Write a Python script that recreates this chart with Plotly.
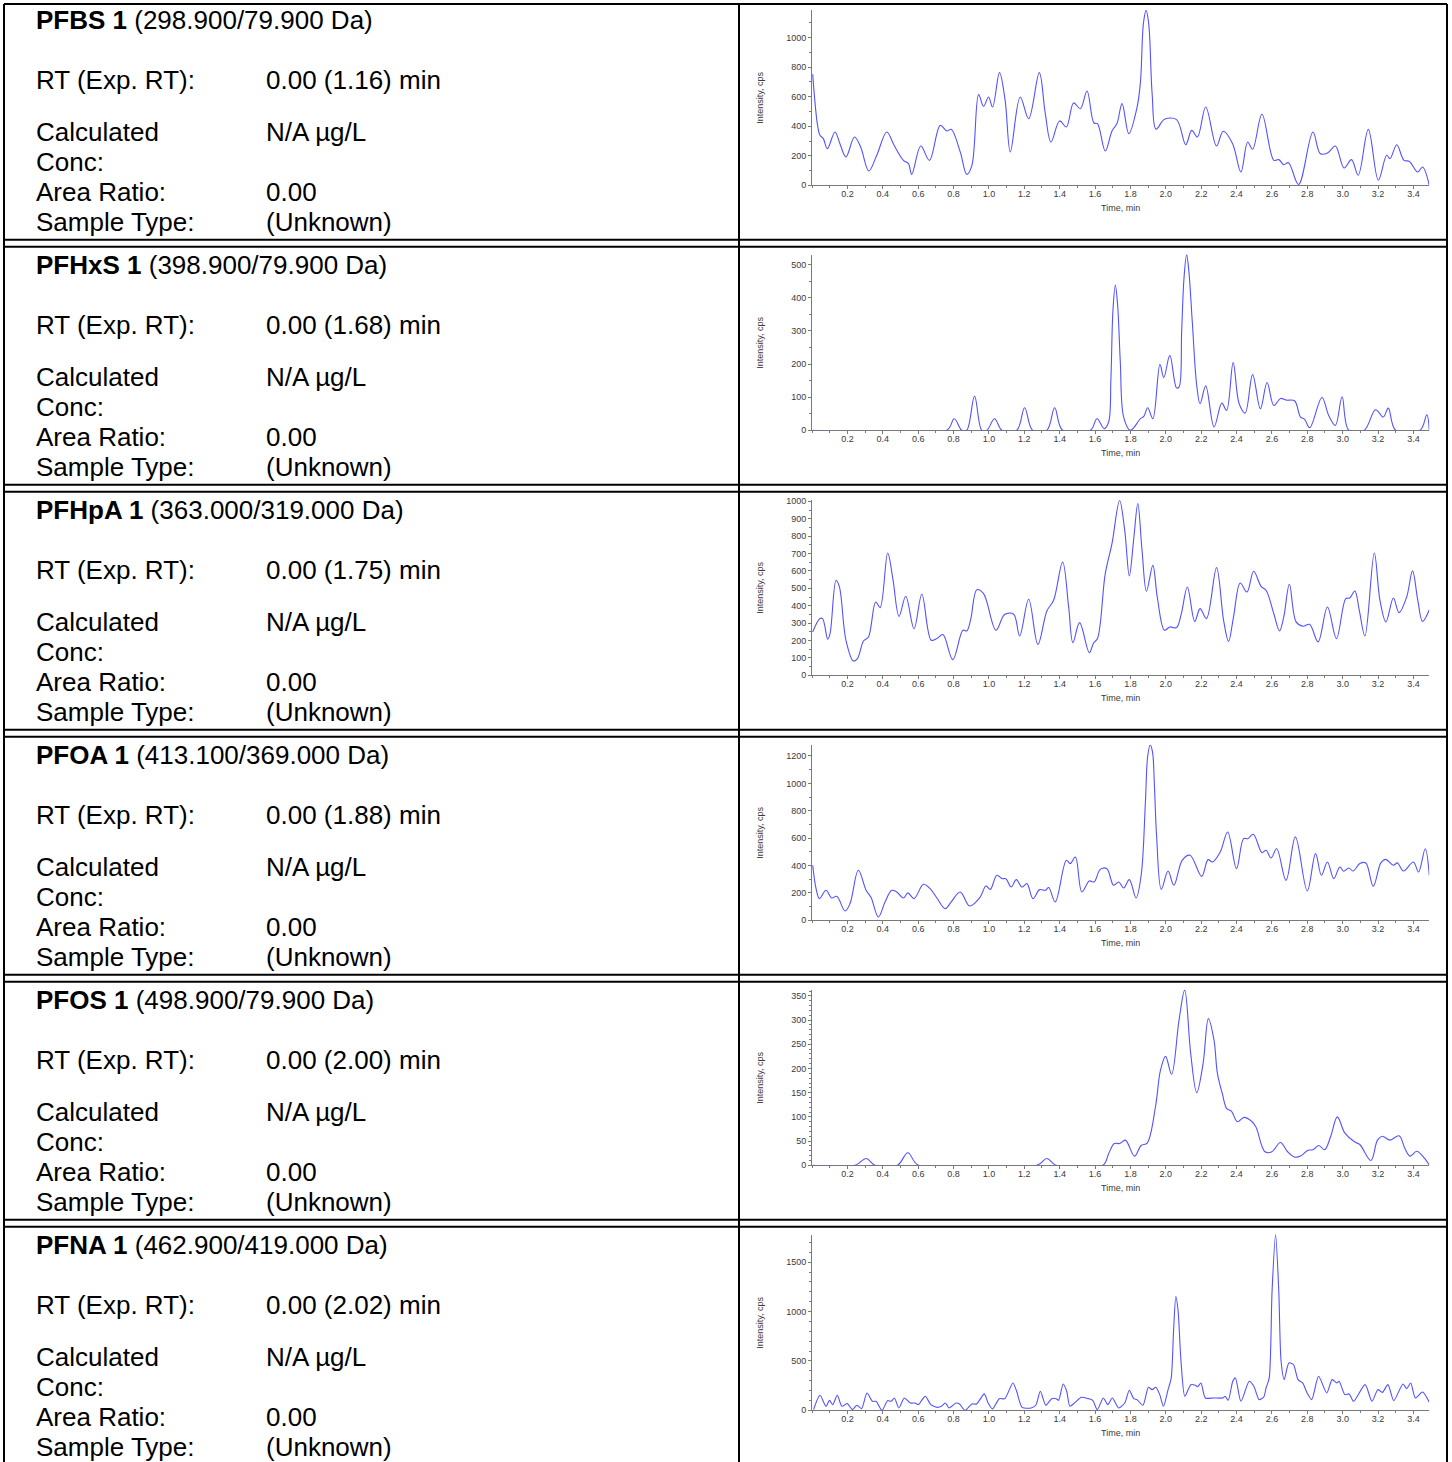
import plotly.graph_objects as go

W, H = 1452, 1470
ROW_PITCH = 245

# ---- report content -------------------------------------------------------
compounds = ["PFBS 1", "PFHxS 1", "PFHpA 1", "PFOA 1", "PFOS 1", "PFNA 1"]
transitions = ["(298.900/79.900 Da)", "(398.900/79.900 Da)", "(363.000/319.000 Da)",
               "(413.100/369.000 Da)", "(498.900/79.900 Da)", "(462.900/419.000 Da)"]
rt_values = ["0.00 (1.16) min", "0.00 (1.68) min", "0.00 (1.75) min",
             "0.00 (1.88) min", "0.00 (2.00) min", "0.00 (2.02) min"]
conc_values = ["N/A µg/L"] * 6
area_ratios = ["0.00"] * 6
sample_types = ["(Unknown)"] * 6

# ---- chromatograms: (time [min], intensity [cps]) --------------------------
pfbs = [(0.004, 752), (0.011, 643), (0.030, 418), (0.045, 339), (0.064, 316), (0.087, 248),
        (0.130, 361), (0.158, 282), (0.192, 192), (0.240, 327), (0.275, 260), (0.321, 97),
        (0.366, 203), (0.423, 361), (0.464, 271), (0.517, 169), (0.545, 147), (0.564, 74),
        (0.615, 266), (0.664, 169), (0.725, 406), (0.762, 368), (0.787, 379), (0.838, 226),
        (0.875, 74), (0.904, 135), (0.942, 614), (0.970, 535), (0.998, 598), (1.021, 530),
        (1.060, 763), (1.092, 575), (1.121, 226), (1.177, 598), (1.225, 451), (1.285, 763),
        (1.319, 485), (1.351, 293), (1.400, 436), (1.438, 395), (1.479, 558), (1.517, 519),
        (1.555, 639), (1.594, 422), (1.614, 418), (1.658, 232), (1.696, 368), (1.724, 418),
        (1.753, 553), (1.791, 350), (1.838, 530), (1.857, 700), (1.874, 1100), (1.889, 1185),
        (1.904, 1090), (1.923, 620), (1.945, 380), (1.993, 447), (2.061, 445), (2.113, 275),
        (2.147, 372), (2.179, 327), (2.226, 530), (2.287, 266), (2.325, 366), (2.378, 282),
        (2.425, 90), (2.463, 293), (2.491, 244), (2.544, 481), (2.611, 169), (2.639, 174),
        (2.667, 140), (2.694, 153), (2.751, 5), (2.832, 361), (2.874, 214), (2.917, 221),
        (2.959, 266), (3.008, 117), (3.050, 174), (3.088, 68), (3.145, 379), (3.202, 34),
        (3.249, 203), (3.268, 181), (3.306, 275), (3.347, 169), (3.376, 163), (3.425, 90),
        (3.452, 124), (3.490, 0)]

pfhxs = [(0.004, 0), (0.762, 0), (0.804, 35), (0.847, 0), (0.875, 0), (0.919, 103),
         (0.960, 0), (0.989, 0), (1.032, 35), (1.074, 0), (1.158, 0), (1.202, 68),
         (1.247, 0), (1.328, 0), (1.372, 68), (1.417, 0), (1.574, 0), (1.611, 35),
         (1.652, 5), (1.677, 25), (1.690, 156), (1.701, 357), (1.715, 438), (1.728, 377),
         (1.743, 206), (1.762, 40), (1.800, 0), (1.857, 35), (1.876, 42), (1.898, 68),
         (1.927, 35), (1.967, 199), (1.989, 159), (2.023, 226), (2.061, 128), (2.075, 130),
         (2.090, 300), (2.103, 458), (2.118, 530), (2.131, 478), (2.150, 327), (2.175, 136),
         (2.194, 80), (2.226, 134), (2.273, 10), (2.317, 82), (2.344, 60), (2.381, 204),
         (2.415, 80), (2.449, 52), (2.491, 168), (2.535, 65), (2.573, 144), (2.611, 75),
         (2.649, 96), (2.682, 91), (2.728, 89), (2.762, 40), (2.785, 33), (2.814, 8),
         (2.883, 99), (2.921, 45), (2.959, 15), (2.997, 101), (3.035, 0), (3.122, 0),
         (3.186, 62), (3.230, 40), (3.258, 67), (3.300, 0), (3.438, 0), (3.476, 47),
         (3.490, 0)]

pfhpa = [(0.004, 249), (0.045, 326), (0.060, 326), (0.089, 207), (0.102, 239), (0.136, 546),
         (0.155, 508), (0.192, 201), (0.234, 82), (0.257, 96), (0.291, 197), (0.319, 220),
         (0.360, 421), (0.385, 389), (0.428, 703), (0.457, 556), (0.492, 339), (0.530, 454),
         (0.577, 268), (0.621, 466), (0.674, 201), (0.706, 211), (0.740, 234), (0.796, 90),
         (0.853, 259), (0.875, 255), (0.898, 326), (0.932, 492), (0.970, 469), (1.040, 259),
         (1.089, 349), (1.140, 351), (1.174, 226), (1.225, 437), (1.277, 178), (1.328, 370),
         (1.366, 431), (1.417, 651), (1.451, 393), (1.475, 188), (1.513, 303), (1.568, 130),
         (1.592, 186), (1.614, 211), (1.658, 584), (1.696, 757), (1.739, 1005), (1.768, 833),
         (1.794, 571), (1.819, 785), (1.842, 987), (1.866, 718), (1.891, 483), (1.927, 632),
         (1.952, 450), (1.993, 259), (2.023, 278), (2.061, 274), (2.088, 354), (2.122, 508),
         (2.164, 310), (2.194, 383), (2.230, 326), (2.287, 619), (2.327, 316), (2.355, 195),
         (2.383, 335), (2.421, 531), (2.459, 479), (2.497, 598), (2.539, 511), (2.567, 489),
         (2.611, 354), (2.643, 255), (2.667, 335), (2.699, 523), (2.737, 307), (2.775, 282),
         (2.813, 293), (2.861, 192), (2.914, 393), (2.965, 211), (3.018, 441), (3.040, 444),
         (3.069, 485), (3.094, 374), (3.126, 226), (3.179, 703), (3.211, 431), (3.245, 307),
         (3.287, 444), (3.319, 360), (3.362, 450), (3.395, 600), (3.425, 431), (3.452, 310),
         (3.490, 377)]

pfoa = [(0.004, 402), (0.023, 231), (0.042, 158), (0.079, 219), (0.111, 163), (0.140, 175),
        (0.187, 68), (0.215, 122), (0.262, 365), (0.306, 219), (0.334, 166), (0.375, 24),
        (0.413, 134), (0.451, 219), (0.479, 207), (0.517, 163), (0.542, 200), (0.577, 158),
        (0.630, 263), (0.668, 231), (0.706, 163), (0.753, 85), (0.787, 134), (0.838, 207),
        (0.891, 105), (0.951, 170), (0.983, 251), (1.008, 226), (1.045, 329), (1.074, 304),
        (1.096, 304), (1.126, 243), (1.155, 297), (1.187, 243), (1.215, 268), (1.249, 158),
        (1.287, 224), (1.319, 219), (1.338, 239), (1.375, 134), (1.438, 438), (1.460, 414),
        (1.489, 462), (1.526, 207), (1.568, 287), (1.595, 280), (1.630, 372), (1.667, 377),
        (1.705, 256), (1.734, 280), (1.762, 236), (1.794, 297), (1.832, 163), (1.861, 329),
        (1.885, 864), (1.898, 1200), (1.912, 1280), (1.925, 1230), (1.936, 980), (1.948, 621),
        (1.975, 226), (2.013, 360), (2.046, 256), (2.093, 438), (2.137, 475), (2.203, 321),
        (2.239, 443), (2.264, 426), (2.308, 499), (2.350, 645), (2.400, 377), (2.440, 596),
        (2.463, 596), (2.495, 628), (2.544, 494), (2.567, 511), (2.595, 455), (2.627, 523),
        (2.680, 292), (2.733, 609), (2.800, 214), (2.847, 487), (2.880, 329), (2.914, 426),
        (2.950, 304), (2.984, 389), (3.006, 358), (3.035, 382), (3.059, 360), (3.097, 414),
        (3.131, 419), (3.173, 248), (3.216, 419), (3.243, 445), (3.287, 402), (3.310, 419),
        (3.344, 360), (3.400, 426), (3.429, 353), (3.467, 523), (3.490, 329)]

pfos = [(0.004, 0), (0.243, 0), (0.306, 14), (0.357, 0), (0.483, 0), (0.542, 26),
        (0.602, 0), (1.272, 0), (1.328, 14), (1.381, 0), (1.645, 0), (1.677, 24),
        (1.709, 45), (1.739, 45), (1.772, 52), (1.823, 19), (1.861, 41), (1.895, 46),
        (1.942, 121), (1.970, 196), (1.999, 225), (2.033, 188), (2.075, 300), (2.107, 362),
        (2.141, 231), (2.175, 150), (2.211, 210), (2.241, 303), (2.273, 258), (2.292, 190),
        (2.320, 148), (2.345, 117), (2.371, 112), (2.405, 90), (2.443, 99), (2.485, 91),
        (2.510, 79), (2.561, 28), (2.600, 28), (2.648, 47), (2.689, 28), (2.728, 17),
        (2.762, 19), (2.804, 31), (2.832, 32), (2.866, 41), (2.898, 32), (2.932, 59),
        (2.970, 100), (3.012, 67), (3.069, 48), (3.097, 43), (3.160, 10), (3.197, 52),
        (3.224, 60), (3.268, 52), (3.319, 61), (3.353, 34), (3.381, 19), (3.419, 29),
        (3.457, 17), (3.490, 1)]

pfna = [(0.009, 7), (0.045, 152), (0.079, 41), (0.099, 101), (0.117, 57), (0.143, 152),
        (0.169, 41), (0.200, 68), (0.228, 7), (0.254, 51), (0.280, 17), (0.311, 176),
        (0.342, 91), (0.362, 91), (0.396, 0), (0.427, 98), (0.448, 91), (0.466, 125),
        (0.491, 24), (0.522, 125), (0.556, 74), (0.582, 74), (0.602, 57), (0.620, 101),
        (0.641, 142), (0.672, 57), (0.711, 30), (0.731, 41), (0.754, 74), (0.775, 24),
        (0.814, 74), (0.834, 64), (0.865, 0), (0.904, 64), (0.930, 64), (0.974, 166),
        (0.994, 80), (1.020, 14), (1.059, 118), (1.090, 118), (1.136, 277), (1.157, 193),
        (1.188, 30), (1.239, 24), (1.265, 51), (1.291, 193), (1.322, 51), (1.355, 118),
        (1.381, 118), (1.394, 101), (1.420, 267), (1.440, 193), (1.458, 41), (1.484, 74),
        (1.523, 132), (1.562, 118), (1.587, 101), (1.613, 7), (1.647, 125), (1.672, 57),
        (1.698, 125), (1.734, 24), (1.768, 74), (1.794, 203), (1.819, 118), (1.837, 108),
        (1.871, 51), (1.902, 233), (1.923, 209), (1.943, 233), (1.966, 159), (1.987, 41),
        (2.013, 209), (2.031, 328), (2.044, 801), (2.057, 1155), (2.070, 1003), (2.085, 530),
        (2.108, 142), (2.142, 260), (2.168, 253), (2.180, 240), (2.199, 277), (2.224, 125),
        (2.271, 125), (2.322, 125), (2.335, 142), (2.353, 101), (2.379, 294), (2.394, 328),
        (2.425, 91), (2.472, 294), (2.498, 243), (2.528, 108), (2.554, 135), (2.567, 226),
        (2.585, 328), (2.601, 1206), (2.621, 1780), (2.639, 1206), (2.652, 497), (2.670, 311),
        (2.696, 480), (2.722, 463), (2.748, 311), (2.774, 277), (2.799, 176), (2.825, 108),
        (2.864, 345), (2.910, 176), (2.941, 311), (2.967, 277), (2.980, 294), (3.013, 159),
        (3.037, 166), (3.062, 91), (3.127, 260), (3.166, 91), (3.199, 209), (3.225, 182),
        (3.256, 260), (3.289, 98), (3.341, 267), (3.362, 220), (3.385, 277), (3.411, 125),
        (3.452, 186), (3.490, 81)]

chromatograms = [pfbs, pfhxs, pfhpa, pfoa, pfos, pfna]

# ---- axis settings per panel ----------------------------------------------
y_max = [1190, 530, 1010, 1283, 363, 1780]
y_dtick = [200, 100, 100, 200, 50, 500]
y_minor = [100, 50, 50, 100, 10, 100]
x_tick_values = [0.2, 0.4, 0.6, 0.8, 1.0, 1.2, 1.4, 1.6, 1.8, 2.0, 2.2, 2.4, 2.6, 2.8,
                 3.0, 3.2, 3.4]
x_end = 3.49

# ---- styling --------------------------------------------------------------
TEXT_FONT = "Liberation Sans, Arial, sans-serif"
TEXT_SIZE = 26
AXIS_GREY = "#7a7a7a"
TICK_TEXT = "#3a3a3a"
TRACE_BLUE = "#5252ff"
LEFT_X, DIVIDER_X, RIGHT_X = 4, 739, 1447
PLOT_X0, PLOT_X1 = 812, 1429.3
PLOT_TOP, PLOT_BASE = 9.3, 185.0
LINE_SMOOTHING = [1.0, 1.0, 1.0, 1.0, 1.0, 0.7]

# vertical page layout: screen position -> figure position
V_OFFSET, V_SCALE = 2.7, 1462 / 1470


def px_x(p):
    return p / W


def fig_y(p):
    return (p - V_OFFSET) / V_SCALE


def px_y(p):
    return 1 - max(0.0, min(fig_y(p), H)) / H


def hline(x0, x1, y):
    yy = 1 - max(1.0, fig_y(y)) / H
    return dict(type="line", xref="paper", yref="paper", x0=px_x(x0), x1=px_x(x1),
                y0=yy, y1=yy, line=dict(color="black", width=2))


def vline(x, y0, y1):
    return dict(type="line", xref="paper", yref="paper", x0=px_x(x), x1=px_x(x),
                y0=1 - max(1.0, fig_y(y0)) / H, y1=px_y(y1),
                line=dict(color="black", width=2))


fig = go.Figure()
shapes = []
annotations = []

label_lines = [("RT (Exp. RT):", 80), ("Calculated", 131.5), ("Conc:", 162),
               ("Area Ratio:", 192), ("Sample Type:", 222)]
TITLE_Y = 20

for i in range(6):
    k = "" if i == 0 else str(i + 1)
    off = ROW_PITCH * i
    times = [p[0] for p in chromatograms[i]]
    values = [p[1] for p in chromatograms[i]]

    fig.add_trace(go.Scatter(
        x=times, y=values, mode="lines",
        line=dict(color=TRACE_BLUE, width=1.1, shape="spline", smoothing=LINE_SMOOTHING[i]),
        xaxis=f"x{k}", yaxis=f"y{k}", hoverinfo="skip", showlegend=False))

    fig.update_layout({
        f"xaxis{k}": dict(
            domain=[px_x(PLOT_X0), px_x(PLOT_X1)], range=[0, x_end], anchor=f"y{k}",
            showline=True, linecolor=AXIS_GREY, linewidth=1, showgrid=False, zeroline=False,
            ticks="outside", ticklen=3, tickwidth=1, tickcolor=AXIS_GREY,
            tickmode="array", tickvals=x_tick_values,
            ticktext=[f"{v:.1f}" for v in x_tick_values], ticklabelstandoff=-3,
            minor=dict(tickmode="linear", tick0=0, dtick=0.1, ticks="outside",
                       ticklen=2, tickcolor=AXIS_GREY),
            tickfont=dict(family=TEXT_FONT, size=9, color=TICK_TEXT),
            layer="below traces", fixedrange=True),
        f"yaxis{k}": dict(
            domain=[px_y(PLOT_BASE + off), px_y(PLOT_TOP + off)], range=[0, y_max[i]],
            anchor=f"x{k}",
            showline=True, linecolor=AXIS_GREY, linewidth=1, showgrid=False, zeroline=False,
            ticks="outside", ticklen=3, tickwidth=1, tickcolor=AXIS_GREY,
            tickmode="linear", tick0=0, dtick=y_dtick[i],
            minor=dict(tickmode="linear", tick0=0, dtick=y_minor[i], ticks="outside",
                       ticklen=2, tickcolor=AXIS_GREY),
            tickfont=dict(family=TEXT_FONT, size=9, color=TICK_TEXT),
            layer="below traces", fixedrange=True),
    })

    # cell borders of this row (the last row runs off the bottom of the page)
    top, bottom = 1.5 + off, 239.5 + off
    shapes.append(hline(LEFT_X, RIGHT_X, top))
    if bottom < 1462:
        shapes.append(hline(LEFT_X, RIGHT_X, bottom))
    for xv in (LEFT_X, DIVIDER_X, RIGHT_X):
        shapes.append(vline(xv, top, bottom + 30))

    # compound header and result fields
    annotations.append(dict(
        xref="paper", yref="paper", x=px_x(34), y=px_y(TITLE_Y + off),
        xanchor="left", yanchor="middle", showarrow=False,
        text=f"<b>{compounds[i]}</b> {transitions[i]}",
        font=dict(family=TEXT_FONT, size=TEXT_SIZE, color="black")))
    values_col = [rt_values[i], conc_values[i], None, area_ratios[i], sample_types[i]]
    for (label, yc), val in zip(label_lines, values_col):
        annotations.append(dict(
            xref="paper", yref="paper", x=px_x(34), y=px_y(yc + off),
            xanchor="left", yanchor="middle", showarrow=False, text=label,
            font=dict(family=TEXT_FONT, size=TEXT_SIZE, color="black")))
        if val is not None:
            annotations.append(dict(
                xref="paper", yref="paper", x=px_x(264), y=px_y(yc + off),
                xanchor="left", yanchor="middle", showarrow=False, text=val,
                font=dict(family=TEXT_FONT, size=TEXT_SIZE, color="black")))

    # axis titles
    annotations.append(dict(
        xref="paper", yref="paper", x=px_x(1120.7), y=px_y(207.3 + off),
        xanchor="center", yanchor="middle", showarrow=False, text="Time, min",
        font=dict(family=TEXT_FONT, size=9, color=TICK_TEXT)))
    annotations.append(dict(
        xref="paper", yref="paper", x=px_x(760), y=px_y(97.5 + off),
        xanchor="center", yanchor="middle", showarrow=False, text="Intensity, cps",
        textangle=-90, font=dict(family=TEXT_FONT, size=9, color=TICK_TEXT)))

fig.update_layout(
    width=W, height=H, margin=dict(l=0, r=0, t=0, b=0),
    paper_bgcolor="white", plot_bgcolor="white", showlegend=False,
    shapes=shapes, annotations=annotations)

fig.write_html("out.html", config={"displayModeBar": False, "staticPlot": True})
